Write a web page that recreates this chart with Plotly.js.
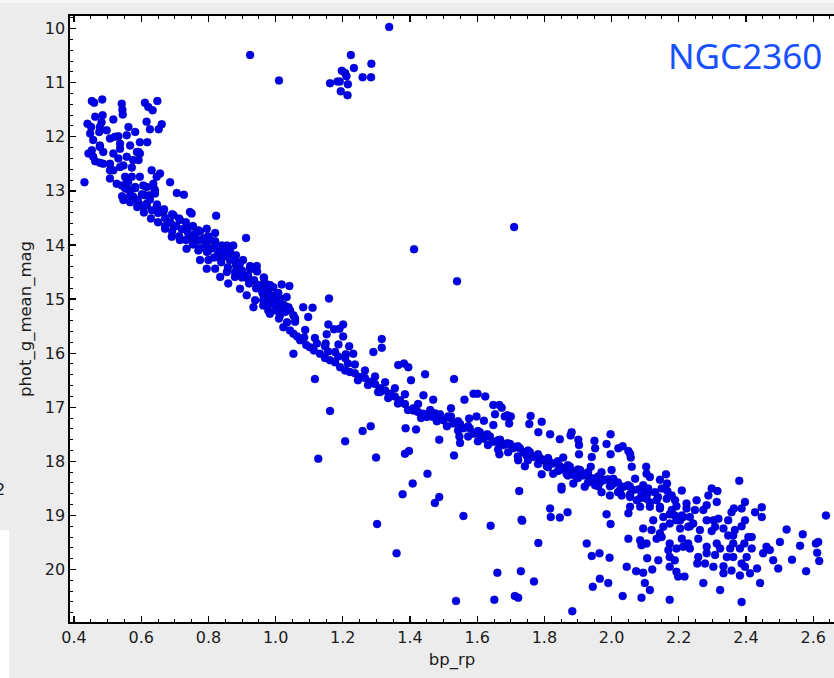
<!DOCTYPE html>
<html>
<head>
<meta charset="utf-8">
<script src="https://cdn.plot.ly/plotly-3.0.1.min.js"></script>
<style>
html,body{margin:0;padding:0;background:#ececec;overflow:hidden;}
#chart{width:834px;height:678px;}
</style>
</head>
<body>
<div id="chart"></div>
<script>
// ---- data: [bp_rp, phot_g_mean_mag] pairs ----
const brightStars = [
  [0.924,10.49],[1.010,10.96],[1.338,9.97],[1.224,10.49],[1.285,10.65],[1.233,10.73],
  [1.197,10.78],[1.207,10.82],[1.211,10.88],[1.259,10.90],[1.284,10.90],[1.162,11.01],
  [1.184,10.98],[1.191,10.98],[1.215,11.03],[1.194,11.16],[1.214,11.23],[1.710,13.67],
  [1.412,14.08],[1.540,14.67],[2.638,19.00]
];
const turnoffStars = [
  [0.453,11.34],[0.460,11.37],[0.484,11.31],[0.542,11.39],[0.544,11.50],[0.545,11.59],
  [0.611,11.37],[0.621,11.45],[0.648,11.34],[0.634,11.51],[0.616,11.72],[0.626,11.86],
  [0.661,11.77],[0.652,11.86],[0.463,11.63],[0.485,11.60],[0.440,11.76],[0.451,11.82],
  [0.482,11.73],[0.517,11.68],[0.497,11.88],[0.475,11.91],[0.562,11.82],[0.582,11.91],
  [0.532,11.99],[0.507,12.03],[0.457,12.06],[0.453,12.25],[0.443,12.31],[0.477,12.16],
  [0.487,12.28],[0.557,11.97],[0.537,12.22],[0.567,12.16],[0.596,12.10],[0.618,12.10],
  [0.587,12.28],[0.592,12.43],[0.532,12.40],[0.463,12.45],[0.477,12.48],[0.507,12.50],
  [0.517,12.62],[0.547,12.53],[0.572,12.57],[0.507,12.77],[0.431,12.84],[0.552,12.74],
  [0.572,12.74],[0.596,12.74],[0.631,12.62],[0.656,12.68],[0.646,12.74],[0.686,12.84],
  [0.706,13.04],[0.727,13.07],[0.542,12.90],[0.557,12.96],[0.582,12.93],[0.616,12.93],
  [0.547,13.17],[0.576,13.11],[0.601,13.27],[0.626,13.08],[0.641,12.99],[0.596,12.31],
  [0.477,12.19],[0.517,12.31],[0.537,12.13],[0.557,12.37],[0.487,12.50],[0.507,12.62],
  [0.537,12.56],[0.576,12.43],[0.592,12.28],[0.527,12.87],[0.557,12.80],[0.567,12.99],
  [0.587,13.17],[0.616,13.24],[0.636,12.93],[0.448,11.94],[0.522,12.00],[0.477,11.82],
  [0.457,12.37]
];
const upperSequence = [
  [0.606,12.90],[0.636,12.87],[0.611,13.08],[0.641,13.05],[0.616,13.27],[0.646,13.30],
  [0.666,13.39],[0.696,13.45],[0.745,13.39],[0.750,13.42],[0.823,13.46],[0.671,13.70],
  [0.696,13.64],[0.715,13.54],[0.735,13.67],[0.770,13.73],[0.795,13.70],[0.820,13.78],
  [0.912,13.87],[0.691,13.85],[0.715,13.91],[0.740,13.88],[0.760,13.94],[0.735,14.07],
  [0.770,14.10],[0.800,14.10],[0.835,14.04],[0.855,14.01],[0.874,14.01],[0.844,14.13],
  [0.864,14.11],[0.775,14.28],[0.800,14.28],[0.825,14.22],[0.886,14.33],[0.795,14.44],
  [0.820,14.44],[0.855,14.50],[0.924,14.44],[0.944,14.39],[0.835,14.59],[0.879,14.59],
  [0.919,14.64],[0.859,14.71],[0.894,14.81],[0.944,14.78],[0.965,14.61],[0.969,14.71],
  [0.993,14.78],[1.018,14.73],[1.041,14.76],[0.914,14.93],[0.939,15.02],[0.978,14.84],
  [1.003,14.90],[1.013,14.99],[1.033,14.96],[0.934,15.15],[0.963,15.12],[0.978,15.21],
  [1.008,15.18],[1.038,15.15],[1.053,15.30],[1.013,15.30],
  [0.552,12.95],[0.567,13.08],[0.590,13.17],[0.611,13.27],[0.632,13.36],[0.650,13.41],
  [0.671,13.50],[0.686,13.58],[0.704,13.65],[0.721,13.71],[0.739,13.77],[0.757,13.84],
  [0.775,13.91],[0.793,13.99],[0.811,14.06],[0.829,14.13],[0.846,14.21],[0.864,14.28],
  [0.882,14.38],[0.900,14.47],[0.918,14.56],[0.936,14.65],[0.954,14.75],[0.971,14.84],
  [0.989,14.95],
  [0.561,12.84],[0.582,12.95],[0.602,13.06],[0.626,13.16],[0.647,13.25],[0.668,13.34],
  [0.692,13.43],[0.713,13.51],[0.733,13.58],[0.754,13.65],[0.775,13.75],[0.799,13.84],
  [0.820,13.93],[0.840,14.01],[0.861,14.10],[0.882,14.19],[0.903,14.28],[0.924,14.39],
  [0.945,14.49],[0.965,14.60],
  [0.543,13.10],[0.567,13.21],[0.588,13.30],[0.608,13.40],[0.629,13.51],[0.650,13.58],
  [0.671,13.65],[0.692,13.75],[0.713,13.84],[0.733,13.91],[0.754,13.99],[0.775,14.06],
  [0.796,14.13],[0.817,14.23],[0.838,14.32],[0.858,14.41],[0.879,14.50],[0.900,14.60],
  [0.921,14.71],[0.942,14.80],[0.963,14.91],[0.983,15.02],[0.899,14.55],[0.884,14.34],
  [0.929,14.44],
  [0.763,13.77],[0.787,13.88],[0.805,13.91],[0.823,14.02],[0.840,14.10],[0.858,14.17],
  [0.876,14.26],[0.894,14.34],[0.948,14.74],[0.960,14.87],[0.983,14.93],[0.998,15.02],
  [1.007,14.95],[1.025,15.11],[1.043,15.21]
];
const midSequence = [
  [0.983,14.74],[1.008,14.89],[1.013,15.05],[1.038,15.16],[1.058,15.36],[1.159,14.99],
  [1.082,15.15],[1.110,15.16],[1.097,15.33],[1.157,15.47],[1.201,15.47],[1.152,15.65],
  [1.174,15.56],[1.190,15.55],[1.201,15.69],[1.149,15.82],[1.187,15.84],[1.219,15.87],
  [1.209,16.02],[1.231,16.01],[1.316,15.74],[1.316,15.90],[1.291,15.98],[1.053,16.01],
  [1.365,16.22],[1.382,16.19],[1.395,16.26],[1.445,16.39],[1.403,16.50],[1.440,16.78],
  [1.469,16.86],[1.117,16.48],[1.162,17.07],
  [0.963,15.02],[0.983,15.27],[1.023,15.52],[1.053,15.64],[1.073,15.76],[1.102,15.89],
  [1.132,16.01],[1.162,16.13],[1.192,16.26],[1.221,16.35],[1.251,16.44],[1.281,16.53],
  [1.311,16.65],[1.340,16.75],[1.370,16.87],[1.410,17.06],[1.450,17.18],
  [0.998,15.11],[1.028,15.24],[1.058,15.42],[1.088,15.57],[1.117,15.72],[1.147,15.87],
  [1.177,15.98],[1.207,16.09],[1.236,16.21],[1.266,16.32],[1.296,16.43],[1.326,16.54],
  [1.355,16.65],[1.385,16.76],[1.424,16.94],[1.460,17.05],
  [0.977,15.11],[1.001,15.21],[1.010,15.36],[1.034,15.43],[1.043,15.58],[1.064,15.69],
  [1.085,15.71],[1.091,15.85],[1.114,15.95],[1.123,15.82],[1.147,16.09],[1.156,15.97],
  [1.177,16.17],[1.186,16.06],[1.207,16.32],[1.215,16.19],[1.236,16.37],[1.245,16.50],
  [1.266,16.46],[1.275,16.59],[1.296,16.57],[1.305,16.72],[1.326,16.69],[1.335,16.83],
  [1.355,16.80],[1.364,16.93],[1.385,16.94],[1.394,17.05],[1.424,17.09],[1.433,17.20],
  [1.474,17.11],[1.480,17.26]
];
const lowerSequence = [
  [1.531,16.48],[1.522,17.02],[1.562,16.86],[1.589,16.75],[1.601,16.75],[1.624,16.80],
  [1.648,16.96],[1.673,17.01],[1.653,17.13],[1.682,17.17],[1.700,17.17],[1.576,17.21],
  [1.598,17.17],[1.648,17.33],[1.620,17.25],[1.759,17.16],[1.792,17.27],[1.755,17.31],
  [1.782,17.46],[1.817,17.50],[1.846,17.59],[1.881,17.46],[1.878,17.52],[1.901,17.60],
  [1.903,17.70],[1.949,17.62],[1.951,17.76],[1.985,17.68],[1.997,17.50],[1.997,17.87],
  [1.941,17.92],[1.903,17.87],[1.938,18.10],[2.020,17.76],[2.033,17.72],[2.050,17.81],
  [2.057,17.93],[2.060,18.10],
  [1.311,16.72],[1.340,16.78],[1.370,16.90],[1.410,17.02],[1.440,17.12],[1.469,17.18],
  [1.499,17.24],[1.529,17.30],[1.559,17.39],[1.589,17.49],[1.618,17.58],[1.648,17.64],
  [1.678,17.70],[1.707,17.76],[1.737,17.83],[1.767,17.92],[1.797,17.98],[1.826,18.04],
  [1.856,18.13],[1.886,18.20],[1.916,18.26],[1.946,18.32],[1.975,18.35],[2.005,18.41],
  [2.035,18.47],[2.064,18.53],
  [1.489,17.13],[1.519,17.20],[1.549,17.31],[1.578,17.39],[1.608,17.46],[1.638,17.54],
  [1.668,17.61],[1.698,17.68],[1.727,17.76],[1.757,17.83],[1.787,17.94],[1.817,18.02],
  [1.846,18.09],[1.876,18.16],[1.906,18.24],[1.936,18.31],[1.965,18.39],[1.995,18.46],
  [2.025,18.53],[2.055,18.61],[2.085,18.68],[2.114,18.76],[2.144,18.87],[2.173,18.98],
  [2.204,19.09],[2.233,19.20],
  [1.666,16.96],[1.690,17.15],[1.695,17.30],[1.522,17.17],[1.547,17.54],[1.549,17.66],
  [1.603,17.49],[1.630,17.50],[1.668,17.60],[1.666,17.68],[1.688,17.67],[1.666,17.87],
  [1.707,17.73],[1.722,17.98],[1.747,17.89],[1.787,17.98],[1.807,18.09],[1.826,18.23],
  [1.792,18.24],
  [1.513,17.17],[1.510,17.35],[1.543,17.26],[1.543,17.43],[1.573,17.35],[1.573,17.54],
  [1.602,17.44],[1.602,17.63],[1.632,17.54],[1.632,17.70],[1.662,17.61],[1.662,17.78],
  [1.692,17.67],[1.692,17.83],[1.721,17.72],[1.721,17.91],[1.751,17.80],[1.751,17.98],
  [1.781,17.87],[1.781,18.05],[1.811,17.94],[1.811,18.11],[1.840,18.00],[1.840,18.18],
  [1.870,18.07],[1.870,18.26],[1.900,18.15],[1.900,18.31],[1.930,18.20],[1.930,18.39],
  [1.960,18.28],[1.960,18.46],[1.989,18.33],[2.019,18.39],[2.019,18.57],[2.049,18.44],
  [2.079,18.52],[2.108,18.59],[2.138,18.66]
];
const faintEnd = [
  [1.856,17.93],[2.055,17.86],[1.906,18.16],[1.876,18.10],[1.846,18.16],[1.866,18.23],
  [1.890,18.26],[1.920,18.23],[1.946,18.32],[1.970,18.20],[2.000,18.16],[1.975,18.35],
  [2.005,18.32],[2.000,18.44],[1.920,18.47],[1.951,18.44],[1.886,18.41],[1.851,18.47],
  [1.970,18.57],[1.995,18.63],[2.030,18.63],[2.055,18.47],[2.070,18.32],[2.103,18.10],
  [2.104,18.23],[2.114,18.29],[2.144,18.34],[2.162,18.24],[2.165,18.41],[2.094,18.44],
  [2.089,18.57],[2.109,18.50],[2.129,18.57],[2.149,18.50],[2.166,18.55],[2.055,18.66],
  [2.075,18.72],[2.104,18.69],[2.134,18.72],[2.164,18.69],[2.189,18.72],[2.179,18.63],
  [2.209,18.54],[2.055,18.84],[2.085,18.84],[2.050,18.96],[2.114,18.84],[2.144,18.84],
  [2.179,18.90],[2.193,18.83],[2.154,19.03],[2.188,19.00],[2.193,19.09],[2.213,19.03],
  [2.223,18.87],[2.253,18.72],[2.248,18.90],[2.223,18.78],[2.288,18.63],[2.298,18.50],
  [2.315,18.55],[2.313,18.75],[2.283,18.81],[2.273,18.90],[2.233,19.03],[2.243,19.15],
  [2.263,19.27],[2.303,19.09],[2.318,19.06],[2.308,19.21],[2.333,19.24],[2.228,19.21],
  [2.204,19.24],[2.173,19.15],[2.154,19.21],[2.144,19.33],[2.119,19.27],[2.094,19.24],
  [2.134,19.43],[2.104,19.52],[2.089,19.55],[2.050,19.43],[2.124,19.09],[2.085,19.46],
  [2.149,19.40],[2.173,19.52],[2.169,19.64],[2.193,19.61],[2.213,19.58],[2.233,19.61],
  [2.173,19.77],[2.188,19.83],[2.173,19.95],[2.193,20.04],[2.217,20.13],[2.198,20.13],
  [2.258,19.77],[2.255,19.89],[2.283,19.70],[2.308,19.73],[2.303,19.95],[2.273,20.25],
  [2.333,20.07],[2.323,20.38],[2.347,19.37],[2.367,19.27],[2.362,19.37],[2.387,19.20],
  [2.353,19.61],[2.343,19.77],[2.362,19.77],[2.362,19.52],[2.382,19.61],[2.387,19.89],
  [2.397,19.95],[2.402,19.77],[2.417,19.61],[2.412,20.07],[2.433,19.98],[2.442,20.25],
  [2.357,20.02],[2.382,20.11],[2.387,20.60],[2.380,18.36],[2.387,18.87],[2.397,18.75],
  [2.397,19.09],[2.417,19.40],[2.427,18.94],[2.447,18.85],[2.447,19.03],[2.451,19.70],
  [2.471,19.64],[2.481,19.83],[2.496,19.98],[2.501,19.49],[2.521,19.26],[2.537,19.82],
  [2.561,19.56],[2.569,19.35],[2.579,20.03],[2.608,19.52],[2.615,19.49],[2.612,19.69],
  [2.618,19.84],[2.461,19.58],[2.209,19.00],[2.228,19.52],[2.209,19.43],[2.258,19.43],
  [2.283,19.58],[2.313,19.52],[2.323,19.61],[2.278,19.89],[2.333,19.94],[2.395,19.52],
  [2.407,19.40],[2.357,18.94],[2.364,18.87],[2.347,19.09],[2.283,19.09],[2.298,19.29]
];
const fieldStars = [
  [1.387,17.39],[1.418,17.41],[1.487,17.60],[1.531,17.89],[1.385,17.86],[1.397,17.81],
  [1.452,18.23],[1.408,18.41],[1.378,18.61],[1.487,18.66],[1.474,18.77],[1.559,19.01],
  [1.725,18.55],[1.742,18.09],[1.851,18.52],[1.817,18.87],[1.869,18.94],[1.819,19.03],
  [1.846,19.04],[1.985,18.98],[1.732,19.08],[1.127,17.95],[1.207,17.63],[1.259,17.44],
  [1.283,17.35],[1.299,17.93],[1.302,19.16],[1.360,19.70],[1.537,20.58],[1.640,19.19],
  [1.660,20.06],[1.651,20.56],[1.712,20.49],[1.722,20.52],[1.730,20.03],[1.769,20.22],
  [1.782,19.51],[1.734,19.10],[1.926,19.52],[1.941,19.75],[1.964,19.70],[1.994,19.78],
  [1.997,19.16],[2.045,19.95],[2.073,20.03],[2.094,20.06],[2.106,19.79],[2.121,20.00],
  [2.139,19.83],[2.099,20.25],[2.114,20.38],[2.089,20.52],[2.033,20.49],[1.990,20.25],
  [1.965,20.17],[1.944,20.32],[2.173,20.56],[1.883,20.77]
];

const xTitle = 'bp_rp';
const yTitle = 'phot_g_mean_mag';
const clusterLabel = 'NGC2360';

const allStars = [].concat(brightStars, turnoffStars, upperSequence, midSequence,
                           lowerSequence, faintEnd, fieldStars);

const trace = {
  type: 'scatter',
  mode: 'markers',
  x: allStars.map(p => p[0]),
  y: allStars.map(p => p[1]),
  marker: {size: 8, color: '#0000ea', line: {width: 0.6, color: 'rgba(0,0,110,0.55)'}},
  hoverinfo: 'x+y'
};

const PL = 70, PT = 16, PW = 764, PH = 606;
const px = v => (v - PL) / PW;      // pixel -> paper x
const py = v => 1 - (v - PT) / PH;  // pixel -> paper y

const layout = {
  width: 834, height: 678,
  paper_bgcolor: '#ececec',
  plot_bgcolor: '#ffffff',
  margin: {l: PL, r: 0, t: PT, b: 678 - PT - PH, pad: 0},
  showlegend: false,
  font: {family: 'DejaVu Sans, sans-serif', color: '#1c1c1c', size: 16},
  xaxis: {
    range: [0.388, 2.662],
    tickmode: 'linear', tick0: 0, dtick: 0.2, tickformat: '.1f',
    ticks: 'inside', ticklen: 6, tickwidth: 1.3, tickcolor: '#000',
    showline: true, linecolor: '#000', linewidth: 1.6, mirror: 'ticks',
    showgrid: false, zeroline: false,
    minor: {ticks: 'inside', tickmode: 'linear', tick0: 0, dtick: 0.05, ticklen: 3, tickwidth: 1, tickcolor: '#000', showgrid: false},
    tickfont: {size: 16, color: '#1c1c1c'},
    title: {text: xTitle, font: {size: 16.5, color: '#1c1c1c'}, standoff: 7},
    automargin: false
  },
  yaxis: {
    range: [20.97, 9.767],
    tickmode: 'linear', tick0: 0, dtick: 1,
    ticks: 'inside', ticklen: 6, tickwidth: 1.3, tickcolor: '#000',
    showline: true, linecolor: '#000', linewidth: 1.6, mirror: false,
    showgrid: false, zeroline: false,
    minor: {ticks: 'inside', tickmode: 'linear', tick0: 0, dtick: 0.2, ticklen: 3, tickwidth: 1, tickcolor: '#000', showgrid: false},
    tickfont: {size: 16, color: '#1c1c1c'},
    title: {text: yTitle, font: {size: 16.5, color: '#1c1c1c'}, standoff: 9},
    automargin: false
  },
  shapes: [
    {type: 'rect', xref: 'paper', yref: 'paper', x0: px(-2), x1: px(9), y0: py(530), y1: py(680),
     fillcolor: '#ffffff', line: {width: 0}, layer: 'above'},
    {type: 'rect', xref: 'paper', yref: 'paper', x0: px(-2), x1: px(836), y0: py(-2), y1: py(3),
     fillcolor: '#f7f7f7', line: {width: 0}, layer: 'above'}
  ],
  annotations: [
    {text: clusterLabel, xref: 'paper', yref: 'paper', x: px(824), y: py(55),
     xanchor: 'right', yanchor: 'middle', showarrow: false,
     font: {family: 'Noto Sans, sans-serif', size: 35, color: '#1650ff'}},
    {text: '2', xref: 'paper', yref: 'paper', x: px(7), y: py(489),
     xanchor: 'right', yanchor: 'middle', showarrow: false,
     font: {family: 'DejaVu Sans, sans-serif', size: 16, color: '#1c1c1c'}}
  ]
};

Plotly.newPlot('chart', [trace], layout, {displayModeBar: false, staticPlot: true});
</script>
</body>
</html>
